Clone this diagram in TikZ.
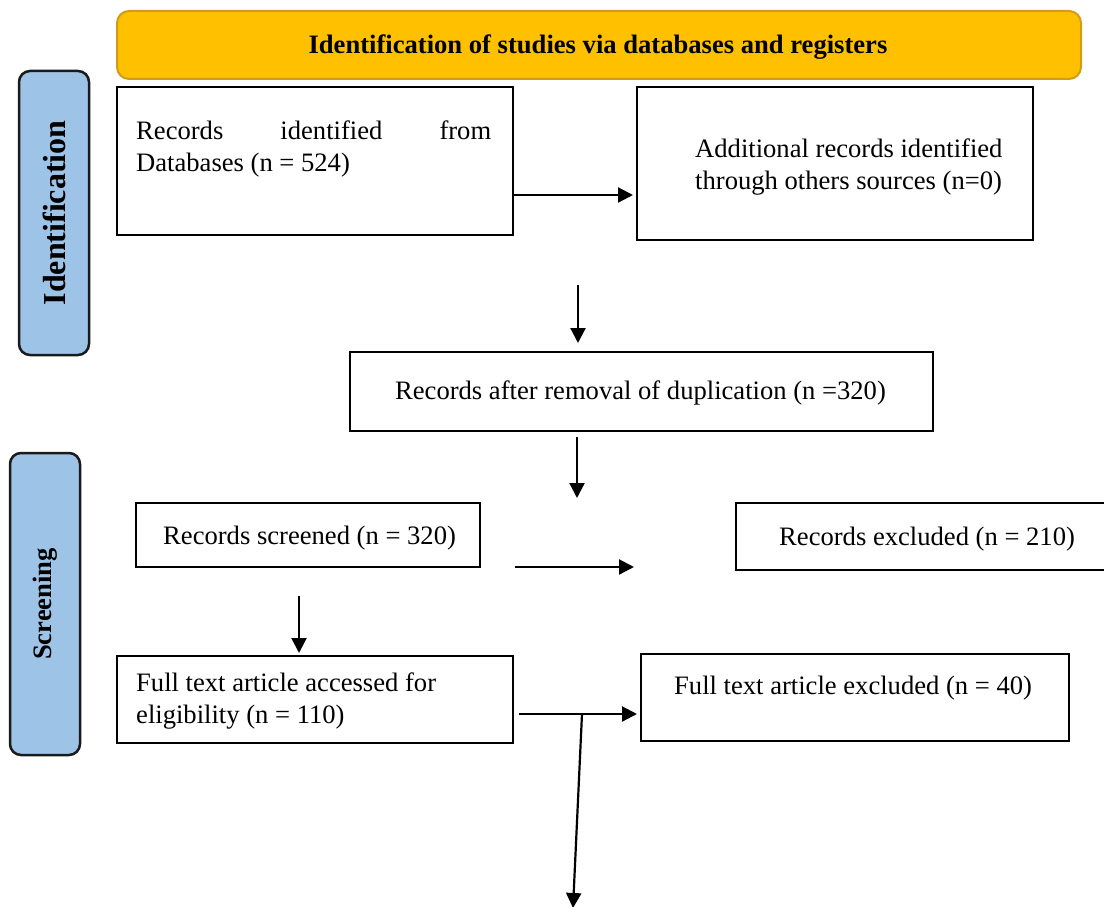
\documentclass[tikz,border=0pt]{standalone}
\usepackage{fontspec}
\setmainfont{Liberation Serif}
\usetikzlibrary{arrows.meta}
\definecolor{banner}{HTML}{FFC000}
\definecolor{bannerline}{HTML}{D09E16}
\definecolor{sidefill}{HTML}{9DC3E6}
\definecolor{sideline}{HTML}{1A1A1A}
\begin{document}
\begin{tikzpicture}[x=1pt,y=-1pt,
  box/.style={draw=black, line width=2pt, rectangle, inner sep=0pt, anchor=north west},
  txt/.style={font=\fontsize{26.6}{32}\selectfont, inner sep=0pt},
  side/.style={draw=sideline, fill=sidefill, line width=2.5pt, rounded corners=11pt,
    rotate=90, inner sep=0pt, font=\bfseries},
  arr/.style={line width=2.2pt, -{Triangle[length=15pt,width=15pt]}},
]
\useasboundingbox (0,0) rectangle (1104,907);

% banner
\node[box, draw=bannerline, fill=banner, rounded corners=12pt, line width=2pt,
  minimum width=964pt, minimum height=68pt] (banner) at (116,10) {};
\node[txt, font=\bfseries\fontsize{26.6}{32}\selectfont] (tb) at (598,47)
  {Identification of studies via databases and registers};

% side labels
\node[side, minimum width=284pt, minimum height=70pt,
  font=\bfseries\fontsize{32}{36}\selectfont] (sid) at (54,213) {Identification};
\node[side, minimum width=302pt, minimum height=70pt,
  font=\bfseries\fontsize{26.6}{30}\selectfont] (sscr) at (45,604) {Screening};

% boxes
\node[box, minimum width=396pt, minimum height=148pt] (b1) at (116,86) {};
\node[txt, anchor=north west, text width=355pt, align=justify] (t1) at (136,121)
  {\hyphenpenalty=10000 Records identified from Databases (n = 524)};

\node[box, minimum width=396pt, minimum height=153pt] (b2) at (636,86) {};
\node[txt, anchor=north west, align=left] (t2) at (695,139)
  {Additional records identified\\through others sources (n=0)};

\node[box, minimum width=583pt, minimum height=79pt] (b3) at (349,351) {};
\node[txt] (t3) at (640.5,393) {Records after removal of duplication (n =320)};

\node[box, minimum width=344pt, minimum height=64pt] (b4) at (135,502) {};
\node[txt, anchor=west] (t4) at (163,538) {Records screened (n = 320)};

\node[box, minimum width=380pt, minimum height=67pt] (b5) at (735,502) {};
\node[txt, anchor=west] (t5) at (779,539) {Records excluded (n = 210)};

\node[box, minimum width=396pt, minimum height=87pt] (b6) at (116,655) {};
\node[txt, anchor=north west, align=left] (t6) at (136,673)
  {Full text article accessed for\\eligibility (n = 110)};

\node[box, minimum width=428pt, minimum height=87pt] (b7) at (640,653) {};
\node[txt, anchor=west] (t7) at (674,688) {Full text article excluded (n = 40)};

% connectors
\coordinate (a1) at (512,195);
\draw[arr] (b1.east |- a1) -- ([xshift=-3pt]b2.west |- a1);

\coordinate (a2s) at (578,285);
\draw[arr, shorten >=8pt] (a2s) -- (b3.north -| a2s);

\coordinate (a3s) at (577,437);
\coordinate (a3e) at (577,498);
\draw[arr] (a3s) -- (a3e);

\coordinate (a4s) at (515,567);
\coordinate (a4e) at (634,567);
\draw[arr] (a4s) -- (a4e);

\coordinate (a5s) at (299,596);
\draw[arr, shorten >=2pt] (a5s) -- (b6.north -| a5s);

\coordinate (a6s) at (519,714);
\draw[arr, shorten >=3pt] (a6s) -- (b7.west |- a6s);

\coordinate (a7s) at (582,714);
\coordinate (a7e) at (573,908);
\draw[arr] (a7s) -- (a7e);
\end{tikzpicture}
\end{document}
